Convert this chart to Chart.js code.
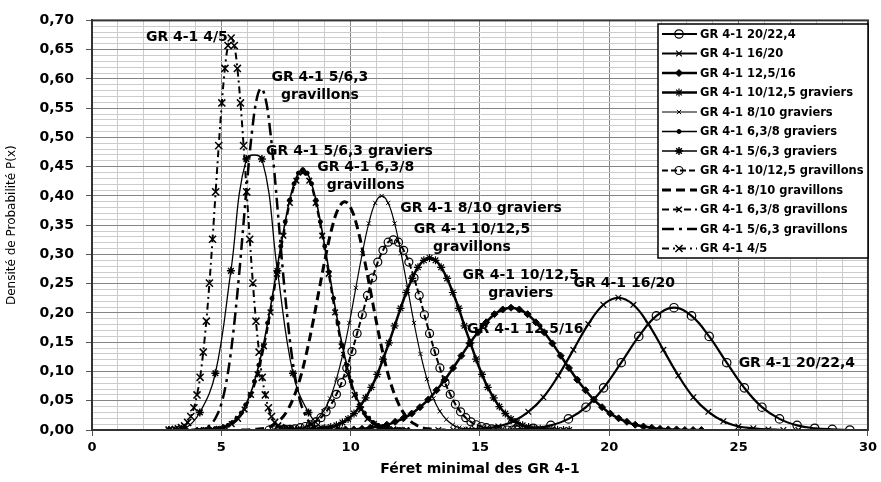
<!DOCTYPE html>
<html>
<head>
<meta charset="utf-8">
<script src="https://cdn.jsdelivr.net/npm/chart.js@4.4.1/dist/chart.umd.min.js"></script>
<style>
  html, body { margin: 0; padding: 0; background: #fff; }
  #wrap { width: 881px; height: 482px; }
</style>
</head>
<body>
<div id="wrap"><canvas id="chart" width="881" height="482"></canvas></div>
<script>
// Densité de probabilité du Féret minimal, GR 4-1 (graviers / gravillons)

// --- data -------------------------------------------------------------------
const X_20_22 = [15.70, 16.38, 17.06, 17.74, 18.42, 19.10, 19.78, 20.46, 21.14, 21.82, 22.50, 23.18, 23.86, 24.54, 25.22, 25.90, 26.58, 27.26, 27.94, 28.62, 29.30];
const Y_20_22 = [0.000, 0.001, 0.003, 0.008, 0.019, 0.039, 0.072, 0.115, 0.160, 0.195, 0.209, 0.195, 0.160, 0.115, 0.072, 0.039, 0.019, 0.008, 0.003, 0.001, 0.000];

const X_16_20 = [13.39, 13.97, 14.55, 15.13, 15.71, 16.29, 16.87, 17.45, 18.03, 18.61, 19.19, 19.77, 20.35, 20.93, 21.51, 22.09, 22.67, 23.25, 23.83, 24.41, 24.99, 25.57, 26.15, 26.73, 27.31];
const Y_16_20 = [0.000, 0.000, 0.001, 0.003, 0.006, 0.015, 0.031, 0.056, 0.093, 0.137, 0.181, 0.214, 0.226, 0.214, 0.181, 0.137, 0.093, 0.056, 0.031, 0.015, 0.006, 0.003, 0.001, 0.000, 0.000];

const X_12_16 = [8.52, 8.84, 9.16, 9.48, 9.80, 10.12, 10.44, 10.76, 11.08, 11.40, 11.72, 12.04, 12.36, 12.68, 13.00, 13.32, 13.64, 13.96, 14.28, 14.60, 14.92, 15.24, 15.56, 15.88, 16.20,
  16.52, 16.84, 17.16, 17.48, 17.80, 18.12, 18.44, 18.76, 19.08, 19.40, 19.72, 20.04, 20.36, 20.68, 21.00, 21.32, 21.64, 21.96, 22.28, 22.60, 22.92, 23.24, 23.56];
const Y_12_16 = [0.000, 0.000, 0.000, 0.000, 0.001, 0.001, 0.002, 0.004, 0.006, 0.009, 0.014, 0.020, 0.028, 0.039, 0.052, 0.068, 0.086, 0.106, 0.127, 0.148, 0.167, 0.184, 0.198, 0.206, 0.209,
  0.206, 0.198, 0.184, 0.167, 0.148, 0.127, 0.106, 0.086, 0.068, 0.052, 0.039, 0.028, 0.020, 0.014, 0.009, 0.006, 0.004, 0.002, 0.001, 0.001, 0.000, 0.000, 0.000];

const X_10_12_gvr = [7.65, 7.88, 8.10, 8.33, 8.55, 8.78, 9.00, 9.23, 9.45, 9.68, 9.90, 10.13, 10.35, 10.58, 10.80, 11.03, 11.25, 11.48, 11.70, 11.93, 12.15, 12.38, 12.60, 12.83, 13.05,
  13.28, 13.50, 13.73, 13.95, 14.18, 14.40, 14.63, 14.85, 15.08, 15.30, 15.53, 15.75, 15.98, 16.20, 16.43, 16.65, 16.88, 17.10, 17.33, 17.55, 17.78, 18.00, 18.23, 18.45];
const Y_10_12_gvr = [0.000, 0.000, 0.000, 0.001, 0.001, 0.002, 0.003, 0.005, 0.008, 0.013, 0.019, 0.028, 0.040, 0.055, 0.073, 0.095, 0.121, 0.149, 0.178, 0.208, 0.235, 0.259, 0.278, 0.290, 0.294,
  0.290, 0.278, 0.259, 0.235, 0.208, 0.178, 0.149, 0.121, 0.095, 0.073, 0.055, 0.040, 0.028, 0.019, 0.013, 0.008, 0.005, 0.003, 0.002, 0.001, 0.001, 0.000, 0.000, 0.000];

const X_8_10_gvr = [7.20, 7.45, 7.70, 7.95, 8.20, 8.45, 8.70, 8.95, 9.20, 9.45, 9.70, 9.95, 10.20, 10.45, 10.70, 10.95, 11.20, 11.45, 11.70, 11.95, 12.20, 12.45, 12.70, 12.95, 13.20, 13.45, 13.70, 13.95, 14.20, 14.45, 14.70, 14.95, 15.20];
const Y_8_10_gvr = [0.000, 0.000, 0.001, 0.002, 0.004, 0.009, 0.018, 0.032, 0.054, 0.087, 0.130, 0.183, 0.243, 0.302, 0.353, 0.388, 0.400, 0.388, 0.353, 0.302, 0.243, 0.183, 0.130, 0.087, 0.054, 0.032, 0.018, 0.009, 0.004, 0.002, 0.001, 0.000, 0.000];

const X_6_8_gvr = [4.07, 4.24, 4.41, 4.58, 4.75, 4.92, 5.09, 5.26, 5.43, 5.60, 5.77, 5.94, 6.11, 6.28, 6.45, 6.62, 6.79, 6.96, 7.13, 7.30, 7.47, 7.64, 7.81, 7.98, 8.15,
  8.32, 8.49, 8.66, 8.83, 9.00, 9.17, 9.34, 9.51, 9.68, 9.85, 10.02, 10.19, 10.36, 10.53, 10.70, 10.87, 11.04, 11.21, 11.38, 11.55, 11.72, 11.89, 12.06, 12.23];
const Y_6_8_gvr = [0.000, 0.000, 0.001, 0.001, 0.002, 0.003, 0.005, 0.008, 0.013, 0.020, 0.029, 0.043, 0.060, 0.083, 0.111, 0.144, 0.183, 0.225, 0.270, 0.314, 0.356, 0.393, 0.421, 0.439, 0.445,
  0.439, 0.421, 0.393, 0.356, 0.314, 0.270, 0.225, 0.183, 0.144, 0.111, 0.083, 0.060, 0.043, 0.029, 0.020, 0.013, 0.008, 0.005, 0.003, 0.002, 0.001, 0.001, 0.000, 0.000];

const X_5_6_gvr = [2.97, 3.57, 4.17, 4.77, 5.37, 5.97, 6.57, 7.17, 7.77, 8.37, 8.97, 9.57];
const Y_5_6_gvr = [0.000, 0.002, 0.030, 0.097, 0.272, 0.463, 0.463, 0.272, 0.097, 0.030, 0.002, 0.000];

const X_10_12_gvl = [6.85, 7.05, 7.25, 7.45, 7.65, 7.85, 8.05, 8.25, 8.45, 8.65, 8.85, 9.05, 9.25, 9.45, 9.65, 9.85, 10.05, 10.25, 10.45, 10.65, 10.85, 11.05, 11.25, 11.45, 11.65,
  11.85, 12.05, 12.25, 12.45, 12.65, 12.85, 13.05, 13.25, 13.45, 13.65, 13.85, 14.05, 14.25, 14.45, 14.65, 14.85, 15.05, 15.25, 15.45, 15.65, 15.85, 16.05, 16.25, 16.45];
const Y_10_12_gvl = [0.000, 0.000, 0.000, 0.001, 0.001, 0.002, 0.004, 0.006, 0.009, 0.014, 0.021, 0.031, 0.044, 0.061, 0.081, 0.106, 0.134, 0.165, 0.197, 0.230, 0.260, 0.287, 0.307, 0.321, 0.325,
  0.321, 0.307, 0.287, 0.260, 0.230, 0.197, 0.165, 0.134, 0.106, 0.081, 0.061, 0.044, 0.031, 0.021, 0.014, 0.009, 0.006, 0.004, 0.002, 0.001, 0.001, 0.000, 0.000, 0.000];

const X_8_10_gvl = [5.77, 6.02, 6.27, 6.52, 6.77, 7.02, 7.27, 7.52, 7.77, 8.02, 8.27, 8.52, 8.77, 9.02, 9.27, 9.52, 9.77, 10.02, 10.27, 10.52, 10.77, 11.02, 11.27, 11.52, 11.77, 12.02, 12.27, 12.52, 12.77, 13.02, 13.27, 13.52, 13.77];
const Y_8_10_gvl = [0.000, 0.000, 0.001, 0.002, 0.004, 0.009, 0.017, 0.031, 0.053, 0.084, 0.127, 0.179, 0.237, 0.294, 0.344, 0.378, 0.390, 0.378, 0.344, 0.294, 0.237, 0.179, 0.127, 0.084, 0.053, 0.031, 0.017, 0.009, 0.004, 0.002, 0.001, 0.000, 0.000];

const X_6_8_gvl = [4.15, 4.40, 4.65, 4.90, 5.15, 5.40, 5.65, 5.90, 6.15, 6.40, 6.65, 6.90, 7.15, 7.40, 7.65, 7.90, 8.15, 8.40, 8.65, 8.90, 9.15, 9.40, 9.65, 9.90, 10.15, 10.40, 10.65, 10.90, 11.15, 11.40, 11.65, 11.90, 12.15];
const Y_6_8_gvl = [0.000, 0.000, 0.001, 0.002, 0.005, 0.010, 0.019, 0.035, 0.060, 0.095, 0.143, 0.201, 0.267, 0.332, 0.388, 0.426, 0.440, 0.426, 0.388, 0.332, 0.267, 0.201, 0.143, 0.095, 0.060, 0.035, 0.019, 0.010, 0.005, 0.002, 0.001, 0.000, 0.000];

const X_5_6_gvl = [3.82, 3.99, 4.16, 4.33, 4.50, 4.67, 4.84, 5.01, 5.18, 5.35, 5.52, 5.69, 5.86, 6.03, 6.20, 6.37, 6.54, 6.71, 6.88, 7.05, 7.22, 7.39, 7.56, 7.73, 7.90, 8.07, 8.24, 8.41, 8.58, 8.75, 8.92, 9.09, 9.26];
const Y_5_6_gvl = [0.000, 0.001, 0.001, 0.003, 0.006, 0.013, 0.026, 0.046, 0.079, 0.126, 0.190, 0.267, 0.354, 0.441, 0.515, 0.566, 0.584, 0.566, 0.515, 0.441, 0.354, 0.267, 0.190, 0.126, 0.079, 0.046, 0.026, 0.013, 0.006, 0.003, 0.001, 0.001, 0.000];

const X_4_5 = [2.98, 3.10, 3.22, 3.34, 3.46, 3.58, 3.70, 3.82, 3.94, 4.06, 4.18, 4.30, 4.42, 4.54, 4.66, 4.78, 4.90, 5.02, 5.14, 5.26, 5.38,
  5.50, 5.62, 5.74, 5.86, 5.98, 6.10, 6.22, 6.34, 6.46, 6.58, 6.70, 6.82, 6.94, 7.06, 7.18, 7.30, 7.42, 7.54, 7.66, 7.78];
const Y_4_5 = [0.000, 0.000, 0.001, 0.002, 0.004, 0.007, 0.013, 0.023, 0.038, 0.060, 0.090, 0.133, 0.186, 0.251, 0.326, 0.407, 0.486, 0.559, 0.618, 0.657, 0.670,
  0.657, 0.618, 0.559, 0.486, 0.407, 0.326, 0.251, 0.186, 0.133, 0.090, 0.060, 0.038, 0.023, 0.013, 0.007, 0.004, 0.002, 0.001, 0.000, 0.000];

// axis ranges / ticks
const X_MIN = 0, X_MAX = 30, X_STEP = 1, X_LABEL_EVERY = 5;
const Y_MIN = 0, Y_MAX = 0.70, Y_STEP = 0.01, Y_LABEL_EVERY = 0.05;

// text labels placed next to the curves: [lines, x, y, align]
const CURVE_LABELS = [
  [["GR 4-1 4/5"], 5.25, 0.671, "right"],
  [["GR 4-1 5/6,3", "gravillons"], 8.81, 0.603, "center"],
  [["GR 4-1 5/6,3 graviers"], 6.73, 0.476, "left"],
  [["GR 4-1 6,3/8", "gravillons"], 10.58, 0.449, "center"],
  [["GR 4-1 8/10 graviers"], 11.92, 0.379, "left"],
  [["GR 4-1 10/12,5", "gravillons"], 14.69, 0.343, "center"],
  [["GR 4-1 10/12,5", "graviers"], 16.58, 0.265, "center"],
  [["GR 4-1 12,5/16"], 14.50, 0.172, "left"],
  [["GR 4-1 16/20"], 18.62, 0.250, "left"],
  [["GR 4-1 20/22,4"], 25.00, 0.114, "left"],
];

// --- styling ----------------------------------------------------------------
const FONT = "'DejaVu Sans', 'Liberation Sans', sans-serif";
Chart.defaults.font.family = FONT;
Chart.defaults.color = "#000";

const SERIES = [
  { label: "GR 4-1 20/22,4", xs: X_20_22, ys: Y_20_22, width: 2.2, dash: [], point: "circle", radius: 4.2, pbw: 1.2, open: true },
  { label: "GR 4-1 16/20", xs: X_16_20, ys: Y_16_20, width: 2.2, dash: [], point: "crossRot", radius: 4, pbw: 1.2 },
  { label: "GR 4-1 12,5/16", xs: X_12_16, ys: Y_12_16, width: 2.5, dash: [], point: "rectRot", radius: 3.5, pbw: 1 },
  { label: "GR 4-1 10/12,5 graviers", xs: X_10_12_gvr, ys: Y_10_12_gvr, width: 2.5, dash: [], point: "star", radius: 4, pbw: 1.2 },
  { label: "GR 4-1 8/10 graviers", xs: X_8_10_gvr, ys: Y_8_10_gvr, width: 1.2, dash: [], point: "crossRot", radius: 3, pbw: 1 },
  { label: "GR 4-1 6,3/8 graviers", xs: X_6_8_gvr, ys: Y_6_8_gvr, width: 1.6, dash: [], point: "circle", radius: 2, pbw: 1 },
  { label: "GR 4-1 5/6,3 graviers", xs: X_5_6_gvr, ys: Y_5_6_gvr, width: 1.3, dash: [], point: "star", radius: 4, pbw: 1.5 },
  { label: "GR 4-1 10/12,5 gravillons", xs: X_10_12_gvl, ys: Y_10_12_gvl, width: 2, dash: [6, 3], point: "circle", radius: 4, pbw: 1.2, open: true },
  { label: "GR 4-1 8/10 gravillons", xs: X_8_10_gvl, ys: Y_8_10_gvl, width: 3, dash: [9, 5], point: false, radius: 0, pbw: 0 },
  { label: "GR 4-1 6,3/8 gravillons", xs: X_6_8_gvl, ys: Y_6_8_gvl, width: 2, dash: [7, 4], point: "crossRot", radius: 4, pbw: 1.5 },
  { label: "GR 4-1 5/6,3 gravillons", xs: X_5_6_gvl, ys: Y_5_6_gvl, width: 2.5, dash: [12, 5, 3, 5], point: false, radius: 0, pbw: 0 },
  { label: "GR 4-1 4/5", xs: X_4_5, ys: Y_4_5, width: 2, dash: [7, 4, 2, 4], point: "crossRot", radius: 5, pbw: 1.5 },
];

const near = (v, step) => Math.abs(v / step - Math.round(v / step)) < 1e-6;

const datasets = SERIES.map((s) => ({
  label: s.label,
  data: s.xs.map((x, i) => ({ x, y: s.ys[i] })),
  showLine: true,
  borderColor: "#000",
  borderWidth: s.width,
  borderDash: s.dash,
  tension: 0.4,
  pointStyle: s.point,
  pointRadius: s.radius,
  pointBorderWidth: s.pbw,
  pointBorderColor: "#000",
  pointBackgroundColor: s.open ? "rgba(0,0,0,0)" : "#000",
  pointHoverRadius: s.radius,
}));

// legend box, curve labels and the plot frame
const overlay = {
  id: "overlay",
  afterDraw(chart) {
    const { ctx, chartArea: a, scales } = chart;
    ctx.save();

    // frame
    ctx.strokeStyle = "#333";
    ctx.lineWidth = 2;
    ctx.setLineDash([]);
    ctx.strokeRect(a.left, a.top, a.right - a.left, a.bottom - a.top);

    // curve labels
    ctx.fillStyle = "#000";
    ctx.font = "bold 14px " + FONT;
    ctx.textBaseline = "middle";
    CURVE_LABELS.forEach(([lines, x, y, align]) => {
      const px = scales.x.getPixelForValue(x);
      const py = scales.y.getPixelForValue(y);
      ctx.textAlign = align;
      lines.forEach((t, i) => ctx.fillText(t, px, py + i * 18));
    });

    // legend
    const lx = 658, ly = 24, lw = 210, lh = 234, row = 19.5;
    ctx.fillStyle = "#fff";
    ctx.fillRect(lx, ly, lw, lh);
    ctx.strokeStyle = "#000";
    ctx.lineWidth = 1.5;
    ctx.strokeRect(lx, ly, lw, lh);
    ctx.font = "bold 11.5px " + FONT;
    ctx.textAlign = "left";
    chart.data.datasets.forEach((ds, i) => {
      const cy = ly + 10 + i * row;
      ctx.strokeStyle = "#000";
      ctx.lineWidth = ds.borderWidth;
      ctx.setLineDash(ds.borderDash);
      ctx.beginPath();
      ctx.moveTo(lx + 4, cy);
      ctx.lineTo(lx + 39, cy);
      ctx.stroke();
      ctx.setLineDash([]);
      if (ds.pointStyle) {
        ctx.fillStyle = ds.pointBackgroundColor;
        ctx.lineWidth = ds.pointBorderWidth;
        Chart.helpers.drawPoint(ctx, {
          pointStyle: ds.pointStyle, radius: ds.pointRadius, rotation: 0, borderWidth: ds.pointBorderWidth,
        }, lx + 21, cy);
      }
      ctx.fillStyle = "#000";
      ctx.fillText(ds.label, lx + 42, cy + 1);
    });
    ctx.restore();
  },
};

new Chart(document.getElementById("chart"), {
  type: "scatter",
  data: { datasets },
  options: {
    responsive: false,
    animation: false,
    events: [],
    layout: { padding: { left: 0, top: 18, right: 12, bottom: 0 } },
    plugins: { legend: { display: false }, tooltip: { enabled: false } },
    scales: {
      x: {
        type: "linear",
        min: X_MIN,
        max: X_MAX,
        afterFit: (s) => { s.height = 52; },
        ticks: {
          stepSize: X_STEP,
          autoSkip: false,
          maxRotation: 0,
          maxTicksLimit: 100,
          padding: 4,
          font: { size: 13, weight: "bold" },
          callback: (v) => (near(v, X_LABEL_EVERY) ? String(v) : ""),
        },
        grid: {
          color: (c) => (near(c.tick.value, X_LABEL_EVERY) ? "#858585" : "#cccccc"),
          tickColor: (c) => (near(c.tick.value, X_LABEL_EVERY) ? "#555" : "rgba(0,0,0,0)"),
          tickLength: 6,
        },
        border: { color: "#333", width: 2 },
        title: {
          display: true,
          text: "Féret minimal des GR 4-1",
          font: { size: 14, weight: "bold" },
          padding: { top: 0, bottom: 4 },
        },
      },
      y: {
        type: "linear",
        min: Y_MIN,
        max: Y_MAX,
        afterFit: (s) => { s.width = 92; },
        ticks: {
          stepSize: Y_STEP,
          autoSkip: false,
          maxTicksLimit: 100,
          padding: 12,
          font: { size: 14, weight: "bold" },
          callback: (v) => (near(v, Y_LABEL_EVERY) ? v.toFixed(2).replace(".", ",") : ""),
        },
        grid: {
          color: (c) => (near(c.tick.value, Y_LABEL_EVERY) ? "#858585" : "#cccccc"),
          tickColor: (c) => (near(c.tick.value, Y_LABEL_EVERY) ? "#555" : "rgba(0,0,0,0)"),
          tickLength: 6,
        },
        border: { color: "#333", width: 2 },
        title: {
          display: true,
          text: "Densité de Probabilité P(x)",
          font: { size: 12 },
          padding: { top: 5, bottom: 0 },
        },
      },
    },
  },
  plugins: [overlay],
});
</script>
</body>
</html>
